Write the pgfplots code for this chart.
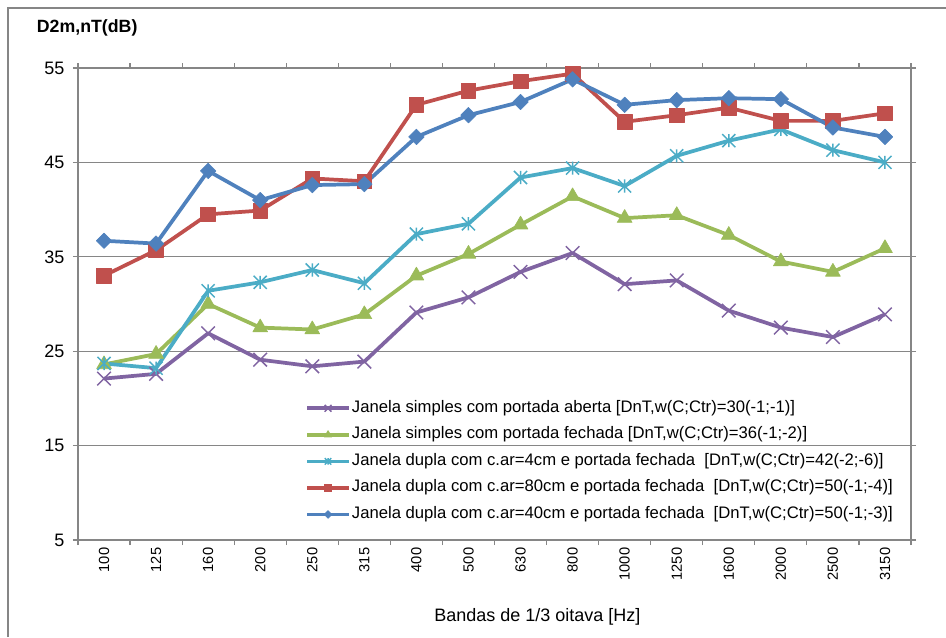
\documentclass[border=0pt]{standalone}
\usepackage{fontspec}
\setmainfont{Liberation Sans}
\usepackage{pgfplots}
\pgfplotsset{compat=1.18}

\definecolor{cPurple}{RGB}{128,100,162}
\definecolor{cGreen}{RGB}{155,187,89}
\definecolor{cCyan}{RGB}{75,172,198}
\definecolor{cRed}{RGB}{192,80,77}
\definecolor{cBlue}{RGB}{79,129,189}
\definecolor{cGrid}{RGB}{134,134,134}

% star marker: a cross with a vertical bar through it
\pgfdeclareplotmark{xstar}{%
  \pgfpathmoveto{\pgfqpoint{0pt}{\pgfplotmarksize}}%
  \pgfpathlineto{\pgfqpoint{0pt}{-\pgfplotmarksize}}%
  \pgfpathmoveto{\pgfqpoint{-\pgfplotmarksize}{-\pgfplotmarksize}}%
  \pgfpathlineto{\pgfqpoint{\pgfplotmarksize}{\pgfplotmarksize}}%
  \pgfpathmoveto{\pgfqpoint{-\pgfplotmarksize}{\pgfplotmarksize}}%
  \pgfpathlineto{\pgfqpoint{\pgfplotmarksize}{-\pgfplotmarksize}}%
  \pgfusepathqstroke}

\pgfplotsset{
  seriesline/.style={line width=2.8pt, line join=round},
  legimg/.style={
    legend image code/.code={
      \draw[mark repeat=2, mark phase=2, every mark/.append style={scale=0.5}]
        plot coordinates {(0pt,0pt) (15.5pt,0pt) (31pt,0pt)};
    }
  },
}

\begin{document}
\begin{tikzpicture}
\path[use as bounding box] (0pt,0pt) rectangle (709.5pt,477.75pt);
\draw[cGrid, line width=0.9pt] (6pt,0pt) -- (6pt,471.75pt) -- (709.5pt,471.75pt);
\node[anchor=west, inner sep=0pt, font=\bfseries\fontsize{13.3}{15}\selectfont] at (27.5pt,456.75pt) {D2m,nT(dB)};
\node[font=\fontsize{13.5}{15}\selectfont] at (403pt,15pt) {Bandas de 1/3 oitava [Hz]};

\begin{axis}[
  at={(58.5pt,72.75pt)}, anchor=south west,
  scale only axis, width=624.75pt, height=354pt,
  xmin=-0.5, xmax=15.5, ymin=5, ymax=55,
  ytick={5,15,25,35,45,55},
  xtick={0,...,15},
  xticklabels={100,125,160,200,250,315,400,500,630,800,1000,1250,1600,2000,2500,3150},
  minor xtick={-0.5,0.5,...,15.5},
  major x tick style={draw=none},
  tick align=outside,
  major tick length=3.75pt, minor tick length=3.75pt,
  tick style={cGrid, line width=0.9pt},
  every tick/.style={cGrid, line width=0.9pt},
  axis line style={cGrid, line width=0.9pt},
  ymajorgrids, grid style={cGrid, line width=0.9pt},
  yticklabel style={font=\fontsize{13.5}{15}\selectfont, xshift=-3pt},
  xticklabel style={font=\fontsize{11}{13}\selectfont, rotate=90, anchor=east, xshift=1.5pt},
  /pgf/number format/assume math mode=true,
  clip=false,
  legend cell align=left,
  legend style={at={(0.268,0.305)}, anchor=north west, draw=none, fill=none,
    font=\fontsize{12.5}{14}\selectfont, row sep=5.9pt,
    nodes={inner sep=1pt, text height=9pt, text depth=3pt}},
  legimg,
]

\addplot[seriesline, color=cPurple, mark=x, mark size=7.2pt,
  mark options={line width=1.1pt}] coordinates {
  (0,22.1) (1,22.6) (2,26.9) (3,24.1) (4,23.4) (5,23.9) (6,29.1) (7,30.7)
  (8,33.4) (9,35.4) (10,32.1) (11,32.5) (12,29.3) (13,27.5) (14,26.5) (15,28.9)};
\addlegendentry{Janela simples com portada aberta [DnT,w(C;Ctr)=30(-1;-1)]}

\addplot[seriesline, color=cGreen, mark=triangle*, mark size=6.4pt,
  mark options={line width=0.5pt}] coordinates {
  (0,23.6) (1,24.7) (2,30.0) (3,27.5) (4,27.3) (5,28.9) (6,33.0) (7,35.3)
  (8,38.4) (9,41.4) (10,39.1) (11,39.4) (12,37.3) (13,34.5) (14,33.4) (15,35.9)};
\addlegendentry{Janela simples com portada fechada [DnT,w(C;Ctr)=36(-1;-2)]}

\addplot[seriesline, color=cCyan, mark=xstar, mark size=4.9pt,
  mark options={line width=1.1pt}] coordinates {
  (0,23.7) (1,23.2) (2,31.4) (3,32.3) (4,33.6) (5,32.2) (6,37.4) (7,38.5)
  (8,43.4) (9,44.4) (10,42.5) (11,45.7) (12,47.3) (13,48.5) (14,46.3) (15,45.0)};
\addlegendentry{Janela dupla com c.ar=4cm e portada fechada \ [DnT,w(C;Ctr)=42(-2;-6)]}

\addplot[seriesline, color=cRed, mark=square*, mark size=5.5pt,
  mark options={line width=0.5pt}] coordinates {
  (0,33.0) (1,35.7) (2,39.5) (3,39.9) (4,43.3) (5,43.0) (6,51.1) (7,52.6)
  (8,53.6) (9,54.4) (10,49.3) (11,50.0) (12,50.8) (13,49.4) (14,49.4) (15,50.2)};
\addlegendentry{Janela dupla com c.ar=80cm e portada fechada \ [DnT,w(C;Ctr)=50(-1;-4)]}

\addplot[seriesline, color=cBlue, mark=square*, mark size=4.1pt,
  mark options={line width=0.5pt, rotate=45}] coordinates {
  (0,36.7) (1,36.4) (2,44.1) (3,41.0) (4,42.6) (5,42.7) (6,47.7) (7,50.0)
  (8,51.4) (9,53.8) (10,51.1) (11,51.6) (12,51.8) (13,51.7) (14,48.7) (15,47.7)};
\addlegendentry{Janela dupla com c.ar=40cm e portada fechada \ [DnT,w(C;Ctr)=50(-1;-3)]}

\end{axis}
\end{tikzpicture}
\end{document}
